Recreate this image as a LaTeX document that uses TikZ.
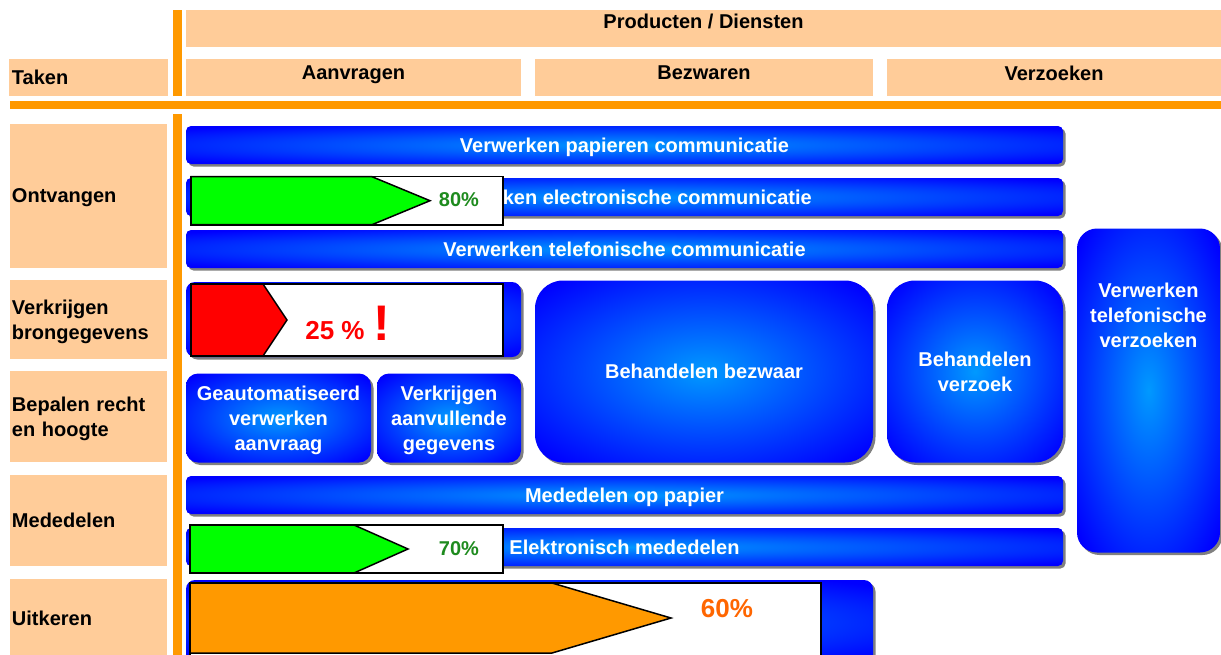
\documentclass[tikz,border=0pt]{standalone}
\usepackage{fontspec}
\setmainfont{Liberation Sans}
\usetikzlibrary{shadows}
\definecolor{peach}{HTML}{FFCC99}
\definecolor{orng}{HTML}{FF9900}
\definecolor{lb}{HTML}{0099FF}
\definecolor{bl}{HTML}{0000FF}
\definecolor{dgreen}{HTML}{1E8B1E}
\definecolor{lgreen}{HTML}{00FF00}
\definecolor{otext}{HTML}{FF6600}
\pgfdeclareradialshading{bluerad}{\pgfpoint{0bp}{0bp}}{color(0bp)=(lb); color(33bp)=(bl); color(50bp)=(bl)}
\newcommand\txtb{\bfseries\fontsize{20}{25}\selectfont}
\tikzset{
  sz/.style 2 args={minimum width=#1, minimum height=#2},
  hdr/.style={fill=peach, draw=none, inner sep=0pt},
  lbl/.style={hdr, text width=153pt, inner xsep=2pt, inner ysep=0pt, align=left, font=\txtb, text depth=0pt},
  lbltwo/.style={lbl, text depth=25pt},
  htext/.style={inner sep=0pt, font=\txtb, text depth=0pt},
  obar/.style={fill=orng, draw=none, inner sep=0pt},
  bluebox/.style={shade, shading=bluerad, draw=none, rounded corners=5pt,
    drop shadow={shadow xshift=2.5pt, shadow yshift=-2.5pt, fill=black!50, opacity=1},
    text=white, font=\txtb, align=center, inner sep=0pt, text depth=0pt},
  pbox/.style={fill=white, draw=none, inner sep=0pt},
  pborder/.style={draw=black, line width=1.5pt},
}
\begin{document}
\begin{tikzpicture}[x=1pt,y=-1pt]
\useasboundingbox (0,0) rectangle (1221,654);
% header
\node[hdr, sz={1035}{37}] (prod) at (703.5,28) {};
\node[htext] (prodt) at (703.5,21) {Producten / Diensten};
\node[lbl, sz={159}{37}] (taken) at (88.5,77.5) {Taken};
\node[hdr, sz={335}{37}] (aanv) at (353.5,77.5) {};
\node[htext] (aanvt) at (353.5,73) {Aanvragen};
\node[hdr, sz={338}{37}] (bezw) at (704,77.5) {};
\node[htext] (bezwt) at (704,73) {Bezwaren};
\node[hdr, sz={334}{37}] (verz) at (1054,77.5) {};
\node[htext] (verzt) at (1054,73) {Verzoeken};
% orange bars
\node[obar, sz={9}{86}] (ov1) at (177,53) {};
\node[obar, sz={1211}{8}] (oh) at (615.5,105) {};
\node[obar, sz={9}{542}] (ov2) at (177,385) {};
% row labels
\node[lbl, sz={157}{144}] (ontv) at (88.5,196) {Ontvangen};
\node[lbltwo, sz={157}{79}] (verk) at (88.5,319.5) {Verkrijgen\\brongegevens};
\node[lbltwo, sz={157}{91}] (bep) at (88.5,416.5) {Bepalen recht\\en hoogte};
\node[lbl, sz={157}{91}] (med) at (88.5,520.5) {Mededelen};
\node[lbl, sz={157}{78}] (uitk) at (88.5,618) {Uitkeren};
% blue boxes
\node[bluebox, sz={877}{38}] (p1) at (624.5,145) {Verwerken papieren communicatie};
\node[bluebox, sz={877}{38}] (p2) at (624.5,197) {Verwerken electronische communicatie};
\node[bluebox, sz={877}{38}] (p3) at (624.5,249) {Verwerken telefonische communicatie};
\node[bluebox, rounded corners=9pt, sz={335}{75}] (brong) at (353.5,319.5) {};
\node[bluebox, rounded corners=12pt, sz={185}{89}] (geaut) at (278.5,418) {Geautomatiseerd\\verwerken\\aanvraag};
\node[bluebox, rounded corners=12pt, sz={144}{89}] (aanv2) at (449,418) {Verkrijgen\\aanvullende\\gegevens};
\node[bluebox, rounded corners=28pt, sz={338}{182}] (bezwaar) at (704,371.5) {Behandelen bezwaar};
\node[bluebox, rounded corners=28pt, sz={176}{182}] (verzoek) at (975,371.5) {Behandelen\\verzoek};
\node[bluebox, rounded corners=20pt, sz={143}{324}] (telverz) at (1148.5,390.5) {};
\node[inner sep=0pt, text=white, font=\txtb, align=center, text depth=0pt] (telverzt) at (1148.5,315) {Verwerken\\telefonische\\verzoeken};
\node[bluebox, sz={877}{38}] (m1) at (624.5,495) {Mededelen op papier};
\node[bluebox, sz={877}{38}] (m2) at (624.5,547) {Elektronisch mededelen};
\node[bluebox, rounded corners=9pt, sz={687}{84}] (uitbar) at (529.5,622) {};
% progress 80%
\node[pbox, sz={312}{48}] (pb1) at (347,200.7) {};
\filldraw[fill=lgreen, draw=black, line width=1.5pt] (191,176.7) -- (372,176.7) -- (430,200.7) -- (372,224.7) -- (191,224.7) -- cycle;
\draw[pborder] (pb1.north west) rectangle (pb1.south east);
\node[inner sep=0pt, text=dgreen, font=\txtb] (t80) at (459,200) {80\%};
% progress 25%
\node[pbox, sz={312}{72}] (pb2) at (347,320) {};
\filldraw[fill=red, draw=black, line width=1.5pt] (191,284) -- (263,284) -- (287,320) -- (263,356) -- (191,356) -- cycle;
\draw[pborder] (pb2.north west) rectangle (pb2.south east);
\node[inner sep=0pt, text=red, font=\bfseries\fontsize{26}{30}\selectfont] (t25) at (335,331) {25 \%};
\node[inner sep=0pt, text=red, font=\bfseries\fontsize{50}{55}\selectfont] (excl) at (382,323) {!};
% progress 70%
\node[pbox, sz={313}{48}] (pb3) at (346.5,549) {};
\filldraw[fill=lgreen, draw=black, line width=1.5pt] (190,525) -- (354,525) -- (408,549) -- (354,573) -- (190,573) -- cycle;
\draw[pborder] (pb3.north west) rectangle (pb3.south east);
\node[inner sep=0pt, text=dgreen, font=\txtb] (t70) at (459,549) {70\%};
% progress 60%
\node[pbox, sz={631}{80}] (pb4) at (505.5,623) {};
\filldraw[fill=orng, draw=black, line width=1.5pt] (190,583) -- (552,583) -- (671,618) -- (552,653) -- (190,653) -- cycle;
\draw[pborder] (pb4.north west) rectangle (pb4.south east);
\node[inner sep=0pt, text=otext, font=\bfseries\fontsize{26}{30}\selectfont] (t60) at (727,609) {60\%};
\end{tikzpicture}
\end{document}
